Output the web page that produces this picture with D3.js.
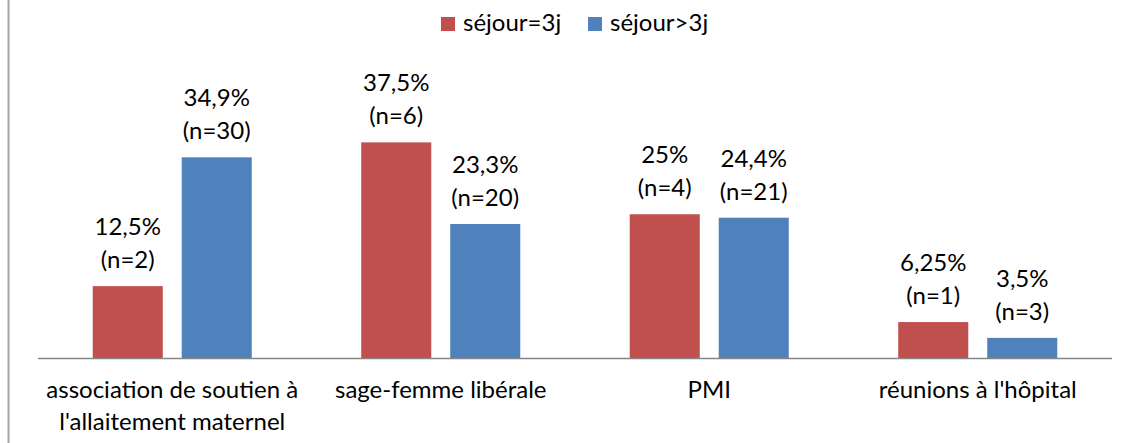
<!DOCTYPE html>
<html>
<head>
<meta charset="utf-8">
<script src="https://cdn.jsdelivr.net/npm/d3@7"></script>
<style>
  body { margin: 0; background: #fff; }
  text { font-family: Lato, "Open Sans", sans-serif; fill: #000; }
</style>
</head>
<body>
<svg id="chart"></svg>
<script>
const categories = [
  ["association de soutien à", "l'allaitement maternel"],
  ["sage-femme libérale"],
  ["PMI"],
  ["réunions à l'hôpital"]
];
const seriesNames = ["séjour=3j", "séjour>3j"];
const seriesColors = ["#c0504d", "#4f81bd"];
const pctSejour3 = [12.5, 37.5, 25, 6.25];
const pctSejourPlus = [34.9, 23.3, 24.4, 3.5];
const labelsSejour3 = [["12,5%", "(n=2)"], ["37,5%", "(n=6)"], ["25%", "(n=4)"], ["6,25%", "(n=1)"]];
const labelsSejourPlus = [["34,9%", "(n=30)"], ["23,3%", "(n=20)"], ["24,4%", "(n=21)"], ["3,5%", "(n=3)"]];

const W = 1121, H = 443;
const plotLeft = 38, plotRight = 1112, baseY = 358;
const fs = 24;

const svg = d3.select("#chart").attr("width", W).attr("height", H);

// left frame edge
svg.append("line")
  .attr("x1", 8.5).attr("y1", 0).attr("x2", 8.5).attr("y2", H)
  .attr("stroke", "#a6a6a6").attr("stroke-width", 2);

const x0 = d3.scaleBand()
  .domain(d3.range(categories.length))
  .range([plotLeft, plotRight])
  .paddingInner(0).paddingOuter(0);

const x1 = d3.scaleBand()
  .domain([0, 1])
  .range([0, x0.bandwidth()])
  .paddingInner(0.213)
  .paddingOuter(0.615);

const y = d3.scaleLinear().domain([0, 40]).range([baseY, baseY - 230]);

const series = [
  { values: pctSejour3, labels: labelsSejour3 },
  { values: pctSejourPlus, labels: labelsSejourPlus }
];

series.forEach((s, si) => {
  const g = svg.append("g");
  s.values.forEach((v, ci) => {
    const bx = x0(ci) + x1(si);
    g.append("rect")
      .attr("x", bx).attr("y", y(v))
      .attr("width", x1.bandwidth()).attr("height", baseY - y(v))
      .attr("fill", seriesColors[si]);
    const cx = bx + x1.bandwidth() / 2;
    const lines = s.labels[ci];
    lines.forEach((t, li) => {
      g.append("text")
        .attr("x", cx)
        .attr("y", y(v) - 18 - (lines.length - 1 - li) * 33)
        .attr("text-anchor", "middle")
        .attr("font-size", fs)
        .text(t);
    });
  });
});

// baseline axis
svg.append("line")
  .attr("x1", plotLeft).attr("x2", plotRight)
  .attr("y1", baseY + 0.5).attr("y2", baseY + 0.5)
  .attr("stroke", "#868686").attr("stroke-width", 1.5);

// category labels
categories.forEach((lines, ci) => {
  lines.forEach((t, li) => {
    svg.append("text")
      .attr("x", x0(ci) + x0.bandwidth() / 2)
      .attr("y", 398 + li * 32)
      .attr("text-anchor", "middle")
      .attr("font-size", fs)
      .text(t);
  });
});

// legend
const legend = svg.append("g").attr("transform", "translate(441,17)");
const legendX = [0, 147];
seriesNames.forEach((name, i) => {
  legend.append("rect")
    .attr("x", legendX[i]).attr("y", 0)
    .attr("width", 14).attr("height", 14)
    .attr("fill", seriesColors[i]);
  legend.append("text")
    .attr("x", legendX[i] + 22).attr("y", 14)
    .attr("font-size", fs)
    .text(name);
});
</script>
</body>
</html>
